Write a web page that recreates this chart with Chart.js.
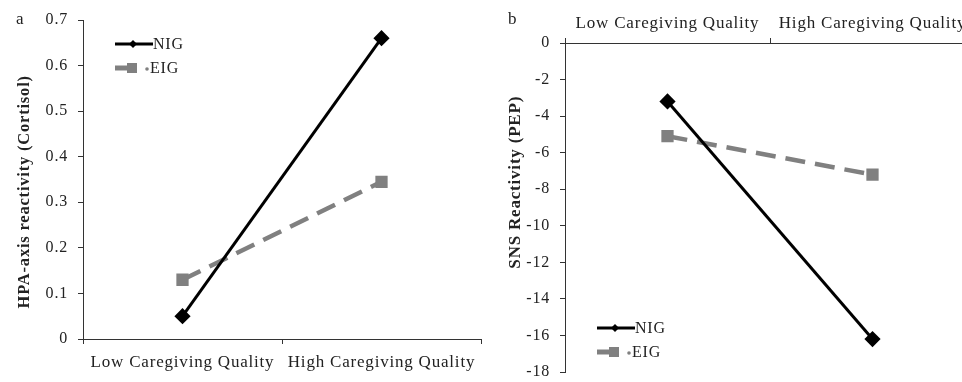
<!DOCTYPE html>
<html>
<head>
<meta charset="utf-8">
<script src="https://cdn.jsdelivr.net/npm/chart.js@4/dist/chart.umd.min.js"></script>
<style>
  html, body { margin: 0; padding: 0; background: #fff; overflow: hidden; }
  #wrap { position: relative; width: 962px; height: 382px; overflow: hidden; }
  canvas { position: absolute; top: 0; }
  #chartA { left: 0; }
  #chartB { left: 481px; }
  .panel { position: absolute; font-family: "Liberation Serif", serif; font-size: 17px; color: #222; }
</style>
</head>
<body>
<div id="wrap">
  <canvas id="chartA" width="491" height="382"></canvas>
  <canvas id="chartB" width="504" height="382"></canvas>
  <div class="panel" style="left:16px; top:9px;">a</div>
  <div class="panel" style="left:508px; top:9px;">b</div>
</div>
<script>
// Categorias y datos
const categories = ["Low Caregiving Quality", "High Caregiving Quality"];
const seriesNames = ["NIG", "EIG"];

// Panel a: cortisol
const cortisolNIG = [0.05, 0.66];
const cortisolEIG = [0.13, 0.345];
const cortisolTicks = [0, 0.7, 0.1]; // min, max, paso

// Panel b: PEP
const pepNIG = [-3.2, -16.2];
const pepEIG = [-5.1, -7.2];
const pepTicks = [-18, 0, 2];

const SERIF = "Liberation Serif";
const INK = "#222";
const AXIS = "#333";
const GREY = "#808080";
const NB = "\u00a0";

Chart.defaults.font.family = SERIF;
Chart.defaults.color = INK;

// Espaciado de letras como en la figura original
const spacing = {
  id: "spacing",
  beforeDraw(chart) {
    chart.ctx.letterSpacing = "0.8px";
  },
};

// Leyenda dibujada dentro del area
const legendBox = {
  id: "legendBox",
  afterDatasetsDraw(chart, args, opts) {
    const ctx = chart.ctx;
    ctx.save();
    chart.data.datasets.forEach((ds, i) => {
      const y = opts.y + i * opts.gap;
      const x0 = opts.x;
      ctx.strokeStyle = ds.borderColor;
      ctx.fillStyle = ds.borderColor;
      if (i === 0) {
        ctx.lineWidth = 3;
        ctx.beginPath();
        ctx.moveTo(x0, y);
        ctx.lineTo(x0 + 38, y);
        ctx.stroke();
        const cx = x0 + 18;
        ctx.beginPath();
        ctx.moveTo(cx, y - 4);
        ctx.lineTo(cx + 4, y);
        ctx.lineTo(cx, y + 4);
        ctx.lineTo(cx - 4, y);
        ctx.closePath();
        ctx.fill();
      } else {
        ctx.lineWidth = 5;
        ctx.beginPath();
        ctx.moveTo(x0, y);
        ctx.lineTo(x0 + 14, y);
        ctx.stroke();
        ctx.fillRect(x0 + 12, y - 5, 10, 10);
        ctx.beginPath();
        ctx.arc(x0 + 32, y + 1, 1.8, 0, Math.PI * 2);
        ctx.fill();
      }
      ctx.fillStyle = INK;
      ctx.font = "16px " + SERIF;
      ctx.textBaseline = "middle";
      ctx.textAlign = "left";
      ctx.fillText(ds.label, i === 0 ? x0 + 38 : x0 + 35, y + 1);
    });
    ctx.restore();
  },
};

function crearDatasets(nig, eig) {
  return [
    {
      label: seriesNames[0],
      data: nig,
      borderColor: "#000",
      backgroundColor: "#000",
      borderWidth: 3,
      pointStyle: "rectRot",
      pointRadius: 6,
      pointHoverRadius: 6,
    },
    {
      label: seriesNames[1],
      data: eig,
      borderColor: GREY,
      backgroundColor: GREY,
      borderWidth: 4.5,
      borderDash: [20, 10],
      pointStyle: "rect",
      pointRadius: 5.5,
      pointHoverRadius: 5.5,
    },
  ];
}

function crearPanel(canvas, nig, eig, ticks, cfg) {
  return new Chart(canvas.getContext("2d"), {
    type: "line",
    data: { labels: categories, datasets: crearDatasets(nig, eig) },
    plugins: [spacing, legendBox],
    options: {
      responsive: false,
      animation: false,
      layout: { padding: cfg.padding },
      plugins: {
        legend: { display: false },
        tooltip: { enabled: false },
        legendBox: cfg.legend,
      },
      scales: {
        x: {
          position: cfg.xPos,
          offset: true,
          border: { color: AXIS, width: 1 },
          grid: { offset: true, drawOnChartArea: false, tickLength: 5, color: AXIS },
          ticks: { font: { size: 17 }, padding: cfg.xPad, maxRotation: 0, color: INK },
          afterFit: (s) => { s.height = cfg.xHeight; },
        },
        y: {
          min: ticks[0],
          max: ticks[1],
          border: { color: AXIS, width: 1 },
          grid: { drawOnChartArea: false, tickLength: 5, color: AXIS },
          ticks: { stepSize: ticks[2], font: { size: 16 }, padding: 10, color: INK },
          title: {
            display: true,
            text: cfg.yTitle,
            font: { size: cfg.yTitleSize, weight: "bold" },
            color: INK,
          },
          afterFit: (s) => {
            s.width = cfg.yWidth;
            s.paddingTop = 0;
            s.paddingBottom = 0;
          },
        },
      },
    },
  });
}

crearPanel(document.getElementById("chartA"), cortisolNIG, cortisolEIG, cortisolTicks, {
  padding: { left: 11, right: 0, top: 20, bottom: 0 },
  xPos: "bottom",
  xPad: 8,
  xHeight: 43,
  yWidth: 72,
  yTitle: "HPA-axis reactivity (Cortisol)" + NB.repeat(5),
  yTitleSize: 16.5,
  legend: { x: 115, y: 44, gap: 24 },
});

crearPanel(document.getElementById("chartB"), pepNIG, pepEIG, pepTicks, {
  padding: { left: 20, right: 0, top: 0, bottom: 7 },
  xPos: "top",
  xPad: 4,
  xHeight: 43,
  yWidth: 64,
  yTitle: NB.repeat(10) + "SNS Reactivity (PEP)",
  yTitleSize: 17,
  legend: { x: 116, y: 328, gap: 24 },
});
</script>
</body>
</html>
